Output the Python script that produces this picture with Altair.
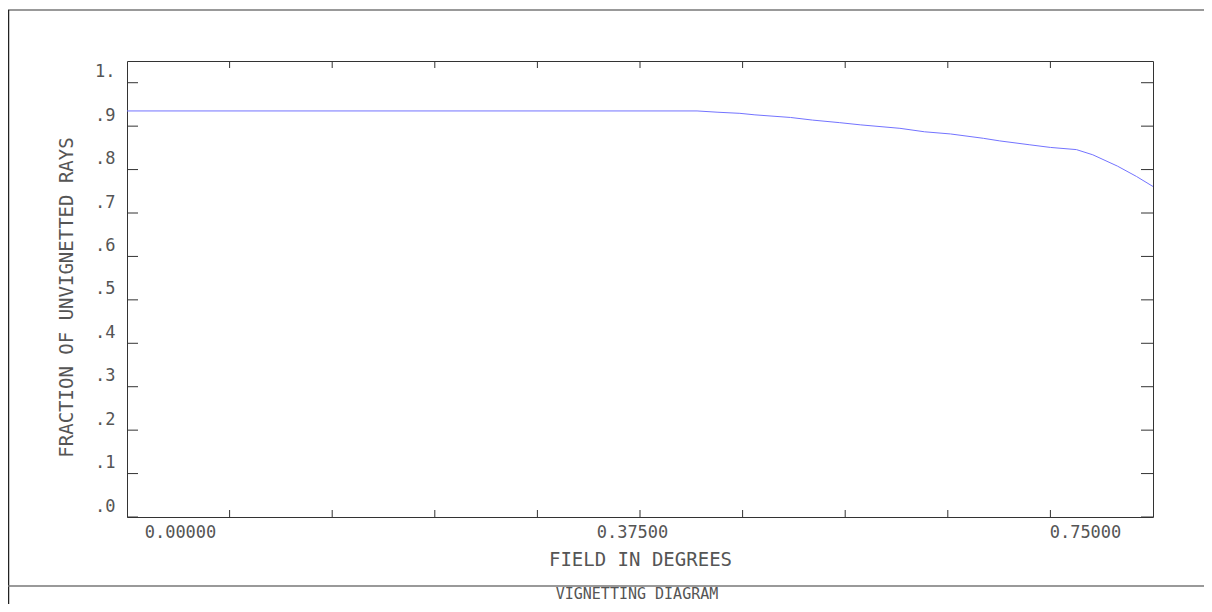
import altair as alt
import pandas as pd

# ---- data ----
field_deg = [0.0, 0.4167, 0.432, 0.448, 0.459, 0.485, 0.501, 0.521, 0.536, 0.565,
             0.583, 0.602, 0.626, 0.638, 0.660, 0.675, 0.694, 0.706, 0.724, 0.738, 0.750]
fraction = [0.935, 0.935, 0.932, 0.9295, 0.926, 0.920, 0.914, 0.908, 0.903, 0.895,
            0.887, 0.882, 0.872, 0.866, 0.857, 0.851, 0.846, 0.834, 0.808, 0.784, 0.761]

x_label_values = [0.0, 0.375, 0.75]
x_tick_values = [0.075, 0.15, 0.225, 0.3, 0.375, 0.45, 0.525, 0.6, 0.675]
y_tick_values = [0.0, 0.1, 0.2, 0.3, 0.4, 0.5, 0.6, 0.7, 0.8, 0.9, 1.0]
diagram_title = "VIGNETTING DIAGRAM"

W, H = 1026, 456
FONT = "DejaVu Sans Mono"
TXT = "#555555"
FRAME = "#333333"

df = pd.DataFrame({"field": field_deg, "fraction": fraction})
xt = pd.DataFrame({"field": x_tick_values})
yt = pd.DataFrame({"fraction": y_tick_values})

xscale = alt.Scale(domain=[0, 0.75], nice=False, zero=False)
yscale = alt.Scale(domain=[0, 1.05], nice=False, zero=False)

x_axis = alt.Axis(values=x_label_values, format=".5f", ticks=False, domain=False,
                  grid=False, labelFlush=False, labelAlign="center",
                  labelBaseline="middle", labelPadding=15,
                  labelOffset={"condition": [{"test": "datum.value == 0", "value": 53},
                                             {"test": "datum.value > 0.7", "value": -68}],
                               "value": -8},
                  labelFont=FONT, labelFontSize=17, labelColor=TXT,
                  title="FIELD IN DEGREES", titleX=513, titleY=42,
                  titleAlign="center", titleBaseline="middle",
                  titleFont=FONT, titleFontSize=19, titleFontWeight="normal",
                  titleColor=TXT)
y_axis = alt.Axis(values=y_tick_values,
                  labelExpr="datum.value >= 0.99 ? '1.' : '.' + format(datum.value * 10, '.0f')",
                  ticks=False, domain=False, grid=False, labelAlign="right",
                  labelBaseline="middle", labelPadding=12, labelOffset=-11,
                  labelFont=FONT, labelFontSize=17, labelColor=TXT,
                  title="FRACTION OF UNVIGNETTED RAYS", titleAngle=270,
                  titleX=-61, titleY=236, titleAlign="center", titleBaseline="middle",
                  titleFont=FONT, titleFontSize=19, titleFontWeight="normal",
                  titleColor=TXT)

line = alt.Chart(df).mark_line(color="#7373ff", strokeWidth=1).encode(
    x=alt.X("field:Q", scale=xscale, axis=x_axis),
    y=alt.Y("fraction:Q", scale=yscale, axis=y_axis),
)

# inward tick marks on all four sides
ytick_l = alt.Chart(yt).mark_rule(color=FRAME, strokeWidth=1).encode(
    y=alt.Y("fraction:Q", scale=yscale, axis=y_axis), x=alt.value(0), x2=alt.value(11))
ytick_r = alt.Chart(yt).mark_rule(color=FRAME, strokeWidth=1).encode(
    y=alt.Y("fraction:Q", scale=yscale, axis=y_axis), x=alt.value(W - 12), x2=alt.value(W))
xtick_b = alt.Chart(xt).mark_rule(color=FRAME, strokeWidth=1).encode(
    x=alt.X("field:Q", scale=xscale, axis=x_axis), y=alt.value(H - 7), y2=alt.value(H))
xtick_t = alt.Chart(xt).mark_rule(color=FRAME, strokeWidth=1).encode(
    x=alt.X("field:Q", scale=xscale, axis=x_axis), y=alt.value(0), y2=alt.value(7))

# outer page frame and bottom caption
one = alt.Data(values=[{}])
frame_top = alt.Chart(one).mark_rule(color="#777777", strokeWidth=1.5).encode(
    x=alt.value(-119), x2=alt.value(1080), y=alt.value(-51))
frame_left = alt.Chart(one).mark_rule(color="#222222", strokeWidth=1.5).encode(
    x=alt.value(-118.5), y=alt.value(-51), y2=alt.value(545))
frame_sep = alt.Chart(one).mark_rule(color="#777777", strokeWidth=1.5).encode(
    x=alt.value(-119), x2=alt.value(1080), y=alt.value(525))
caption = alt.Chart(one).mark_text(
    text=diagram_title, font=FONT, fontSize=15, color=TXT, align="center", baseline="middle"
).encode(x=alt.value(510), y=alt.value(533))

chart = alt.layer(
    line, ytick_l, ytick_r, xtick_b, xtick_t, frame_top, frame_left, frame_sep, caption
).properties(
    width=W, height=H,
    autosize=alt.AutoSizeParams(type="none"),
    padding={"left": 119, "top": 53, "right": 51, "bottom": 87},
).configure(background="white").configure_view(stroke=FRAME, strokeWidth=1)

chart.save("out.html", embed_options={"renderer": "svg", "actions": False})
